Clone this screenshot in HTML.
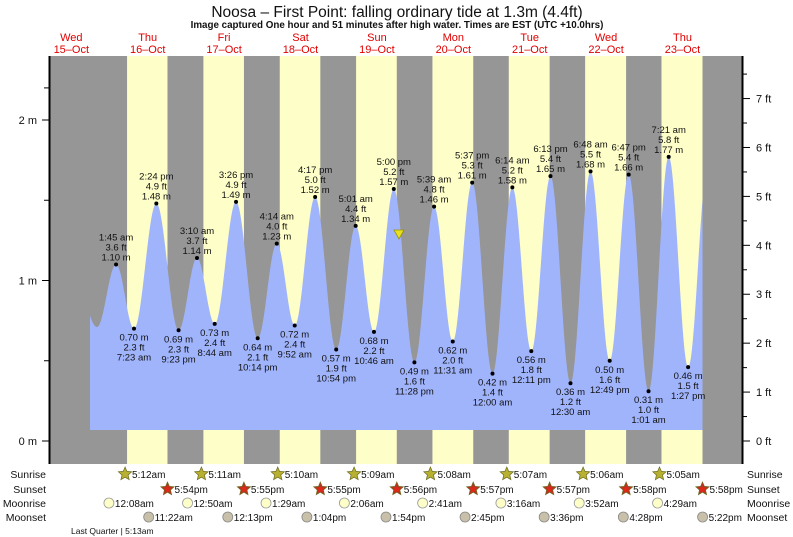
<!DOCTYPE html>
<html><head><meta charset="utf-8"><style>
html,body{margin:0;padding:0;background:#fff;}
svg{display:block;font-family:"Liberation Sans",sans-serif;}
</style></head><body>
<svg id="s" width="793" height="537" viewBox="0 0 793 537" xmlns="http://www.w3.org/2000/svg">
<text x="397" y="17" font-size="15.5" text-anchor="middle" fill="#111">Noosa – First Point: falling  ordinary tide at 1.3m (4.4ft)</text>
<text x="397" y="28" font-size="9.8" font-weight="bold" text-anchor="middle" fill="#111">Image captured One hour and 51 minutes after high water. Times are EST (UTC +10.0hrs)</text>
<rect x="50" y="56" width="692" height="408" fill="#969696"/>
<g id="bands"></g>
<path id="tide" fill="#a0b4fc"/>
<g id="lbl" font-size="9.5" fill="#111" text-anchor="middle"></g>
<polygon points="394,230 404,230 399,239" fill="#e8e020" stroke="#9a9400" stroke-width="0.8"/>
<line x1="49.5" y1="56" x2="49.5" y2="464" stroke="#000" stroke-width="2"/>
<line x1="742.5" y1="56" x2="742.5" y2="464" stroke="#000" stroke-width="2"/>
<g id="ax" font-size="11" fill="#111"></g>
<g id="days" font-size="11" fill="#e00000" text-anchor="middle"></g>
<g id="astro" font-size="10" fill="#111"></g>
<text x="71" y="534" font-size="8.5" fill="#111">Last Quarter | 5:13am</text>
</svg>
<script>
var NS="http://www.w3.org/2000/svg";
function el(p,t,a,txt){var e=document.createElementNS(NS,t);for(var k in a)e.setAttribute(k,a[k]);if(txt!=null)e.textContent=txt;document.getElementById(p).appendChild(e);return e;}
var M16=110.5,DP=76.4;
function X(d,h,m){return M16+(d-16)*DP+(h+m/60)*DP/24;}
function Y(v){return 441-v*160.5;}
var sr=[[16,5,12],[17,5,11],[18,5,10],[19,5,9],[20,5,8],[21,5,7],[22,5,6],[23,5,5]];
var ss=[[16,17,54],[17,17,55],[18,17,55],[19,17,56],[20,17,57],[21,17,57],[22,17,58],[23,17,58]];
for(var i=0;i<8;i++){var a=X.apply(null,sr[i]),b=X.apply(null,ss[i]);el("bands","rect",{x:a,y:56,width:b-a,height:408,fill:"#fefec8"});}
var dn=["Wed","Thu","Fri","Sat","Sun","Mon","Tue","Wed","Thu"];
for(var d=15;d<=23;d++){var cx=X(d,12,0)-1;el("days","text",{x:cx,y:41},dn[d-15]);el("days","text",{x:cx,y:53},d+"\u2013Oct");}
var E=[[15,13,30,0.97,null],[15,19,45,0.71,null],
[16,1,45,1.10,"1:45 am|3.6 ft"],[16,7,23,0.70,"7:23 am|2.3 ft"],[16,14,24,1.48,"2:24 pm|4.9 ft"],[16,21,23,0.69,"9:23 pm|2.3 ft"],
[17,3,10,1.14,"3:10 am|3.7 ft"],[17,8,44,0.73,"8:44 am|2.4 ft"],[17,15,26,1.49,"3:26 pm|4.9 ft"],[17,22,14,0.64,"10:14 pm|2.1 ft"],
[18,4,14,1.23,"4:14 am|4.0 ft"],[18,9,52,0.72,"9:52 am|2.4 ft"],[18,16,17,1.52,"4:17 pm|5.0 ft"],[18,22,54,0.57,"10:54 pm|1.9 ft"],
[19,5,1,1.34,"5:01 am|4.4 ft"],[19,10,46,0.68,"10:46 am|2.2 ft"],[19,17,0,1.57,"5:00 pm|5.2 ft"],[19,23,28,0.49,"11:28 pm|1.6 ft"],
[20,5,39,1.46,"5:39 am|4.8 ft"],[20,11,31,0.62,"11:31 am|2.0 ft"],[20,17,37,1.61,"5:37 pm|5.3 ft"],[21,0,0,0.42,"12:00 am|1.4 ft"],
[21,6,14,1.58,"6:14 am|5.2 ft"],[21,12,11,0.56,"12:11 pm|1.8 ft"],[21,18,13,1.65,"6:13 pm|5.4 ft"],[22,0,30,0.36,"12:30 am|1.2 ft"],
[22,6,48,1.68,"6:48 am|5.5 ft"],[22,12,49,0.50,"12:49 pm|1.6 ft"],[22,18,47,1.66,"6:47 pm|5.4 ft"],[23,1,1,0.31,"1:01 am|1.0 ft"],
[23,7,21,1.77,"7:21 am|5.8 ft"],[23,13,27,0.46,"1:27 pm|1.5 ft"],[23,19,40,1.72,null]];
var P=E.map(function(e){return [X(e[0],e[1],e[2]),e[3]];});
function H(x){for(var i=0;i<P.length-1;i++){if(x>=P[i][0]&&x<=P[i+1][0]){var f=(x-P[i][0])/(P[i+1][0]-P[i][0]);return P[i+1][1]+(P[i][1]-P[i+1][1])*(1+Math.cos(Math.PI*f))/2;}}return 0;}
var x0=90,x1=702.5,d="M"+x0+",430";
for(var x=x0;x<=x1;x+=0.5)d+=" L"+x+","+Y(H(x)).toFixed(2);
d+=" L"+x1+","+Y(H(x1)).toFixed(2)+" L"+x1+",430 Z";
document.getElementById("tide").setAttribute("d",d);
for(var i=0;i<E.length;i++){var e=E[i];if(!e[4])continue;var px=P[i][0],py=Y(e[3]),p=e[4].split("|"),m=e[3].toFixed(2)+" m";
el("lbl","circle",{cx:px,cy:py,r:2,fill:"#000"});
var hi=(i%2==0);
if(hi){el("lbl","text",{x:px,y:py-4},m);el("lbl","text",{x:px,y:py-14},p[1]);el("lbl","text",{x:px,y:py-24},p[0]);}
else{el("lbl","text",{x:px,y:py+12},m);el("lbl","text",{x:px,y:py+22},p[1]);el("lbl","text",{x:px,y:py+32},p[0]);}}
[[0,"0 m"],[1,"1 m"],[2,"2 m"]].forEach(function(t){var y=Y(t[0]);el("ax","line",{x1:42,y1:y,x2:49,y2:y,stroke:"#000"});el("ax","text",{x:37,y:y+4,"text-anchor":"end"},t[1]);});
[0.5,1.5,2.2].forEach(function(v){var y=Y(v);el("ax","line",{x1:44,y1:y,x2:49,y2:y,stroke:"#000"});});
for(var f=0;f<=7.5;f+=0.5){var y=441-f*48.92;el("ax","line",{x1:743,y1:y,x2:(f%1==0?750:747),y2:y,stroke:"#000"});if(f%1==0)el("ax","text",{x:756,y:y+4},f+" ft");}
function star(cx,cy,fill,inner){var pts=[];for(var k=0;k<10;k++){var r=k%2?3.2:7,a=-Math.PI/2+k*Math.PI/5;pts.push((cx+r*Math.cos(a)).toFixed(1)+","+(cy+r*Math.sin(a)).toFixed(1));}
el("astro","polygon",{points:pts.join(" "),fill:fill,stroke:"#6a6a20","stroke-width":0.7});if(inner)el("astro","circle",{cx:cx,cy:cy+0.5,r:2.5,fill:inner});}
var rows=[["Sunrise",474],["Sunset",489],["Moonrise",503],["Moonset",517]];
rows.forEach(function(r){el("astro","text",{x:46,y:r[1]+4,"text-anchor":"end","font-size":10.5},r[0]);el("astro","text",{x:747,y:r[1]+4,"font-size":10.5},r[0]);});
var srT=["5:12am","5:11am","5:10am","5:09am","5:08am","5:07am","5:06am","5:05am"];
var ssT=["5:54pm","5:55pm","5:55pm","5:56pm","5:57pm","5:57pm","5:58pm","5:58pm"];
for(var i=0;i<8;i++){var a=X.apply(null,sr[i])-2;star(a,474,"#b8b030");el("astro","text",{x:a+7,y:478},srT[i]);
var b=X.apply(null,ss[i]);star(b,489,"#c03020","#e02818");el("astro","text",{x:b+7,y:493},ssT[i]);}
var mr=[[16,0,8,"12:08am"],[17,0,50,"12:50am"],[18,1,29,"1:29am"],[19,2,6,"2:06am"],[20,2,41,"2:41am"],[21,3,16,"3:16am"],[22,3,52,"3:52am"],[23,4,29,"4:29am"]];
var ms=[[16,11,22,"11:22am"],[17,12,13,"12:13pm"],[18,13,4,"1:04pm"],[19,13,54,"1:54pm"],[20,14,45,"2:45pm"],[21,15,36,"3:36pm"],[22,16,28,"4:28pm"],[23,17,22,"5:22pm"]];
mr.forEach(function(m){var x=X(m[0],m[1],m[2])-2;el("astro","circle",{cx:x,cy:503,r:5,fill:"#fefec8",stroke:"#999","stroke-width":0.8});el("astro","text",{x:x+6,y:507},m[3]);});
ms.forEach(function(m){var x=X(m[0],m[1],m[2])+2;el("astro","circle",{cx:x,cy:517,r:5,fill:"#c8c0a8",stroke:"#888","stroke-width":0.8});el("astro","text",{x:x+6,y:521},m[3]);});
</script>
</body></html>
